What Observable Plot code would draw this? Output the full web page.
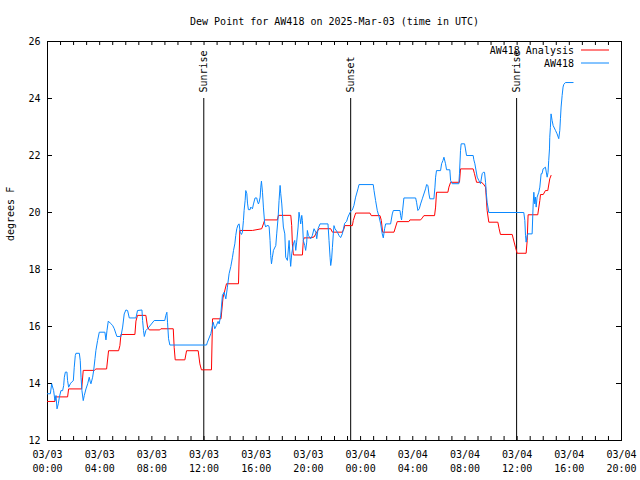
<!DOCTYPE html>
<html>
<head>
<meta charset="utf-8">
<script src="https://cdn.jsdelivr.net/npm/d3@7"></script>
<script src="https://cdn.jsdelivr.net/npm/@observablehq/plot@0.6"></script>
<style>
  html, body { margin: 0; padding: 0; background: #fff; }
  #chart svg { display: block; }
</style>
</head>
<body>
<div id="chart"></div>
<script>
// ---- data (hours after 2025-03-03 00:00 UTC) ----
const titleText = "Dew Point for AW418 on 2025-Mar-03 (time in UTC)";
const yLabel = "degrees F";
const seriesNames = ["AW418 Analysis", "AW418"];
const seriesColors = ["#ff0000", "#0a88ff"];

const anaHours = [0.00,0.57,0.60,1.54,1.62,2.62,2.74,3.59,3.71,4.53,4.68,5.45,5.55,5.63,6.70,6.78,6.90,7.54,7.67,7.80,8.61,8.69,9.64,9.71,9.79,10.53,10.66,11.55,11.68,11.80,12.57,12.65,13.30,13.45,13.72,14.64,14.74,15.71,16.42,16.55,16.65,17.62,17.70,18.65,18.72,18.77,18.85,19.54,19.61,19.67,20.12,20.43,20.64,20.81,21.71,21.84,22.60,22.73,22.78,23.37,23.44,23.62,24.72,24.82,25.49,25.59,25.69,26.56,26.68,26.81,27.70,27.78,28.60,28.73,28.85,29.67,29.75,29.82,30.69,30.77,30.90,31.58,31.66,32.63,32.73,32.89,33.24,33.40,33.58,33.70,33.83,34.52,34.62,34.72,35.62,35.87,36.00,36.69,36.77,36.84,37.58,37.74,37.79,38.00,38.17,38.35,38.50,38.60];
const anaValues = [13.37,13.37,13.53,13.53,13.81,13.81,14.46,14.46,14.51,14.51,15.15,15.15,15.33,15.72,15.72,16.19,16.39,16.39,15.98,15.88,15.88,15.92,15.92,15.27,14.83,14.83,15.15,15.15,14.69,14.48,14.48,16.27,16.27,17.00,17.50,17.50,19.37,19.37,19.43,19.60,19.74,19.74,19.90,19.90,19.54,18.90,18.51,18.51,19.02,19.11,19.11,19.14,19.31,19.43,19.43,19.31,19.31,19.43,19.54,19.54,19.72,19.98,19.98,19.89,19.89,19.72,19.31,19.31,19.49,19.68,19.68,19.74,19.74,19.81,19.89,19.89,20.19,20.71,20.71,20.89,21.06,21.06,21.53,21.53,21.36,21.06,21.06,21.01,20.89,20.07,19.66,19.66,19.43,19.23,19.23,18.78,18.57,18.57,19.01,19.92,19.92,20.42,20.63,20.63,20.77,20.77,21.18,21.30];

const obsHours = [0.00,0.22,0.32,0.47,0.57,0.65,0.73,0.83,0.91,1.03,1.16,1.24,1.29,1.37,1.49,1.54,1.62,1.75,1.85,1.98,2.05,2.13,2.18,2.44,2.51,2.57,2.64,2.74,2.82,2.95,3.08,3.20,3.28,3.33,3.46,3.54,3.64,3.71,3.84,3.97,4.40,4.48,4.56,4.66,4.81,4.99,5.12,5.25,5.32,5.63,5.76,5.88,6.01,6.14,6.27,6.78,6.90,7.24,7.29,7.36,7.42,7.54,7.67,8.18,8.99,9.07,9.15,9.20,9.28,9.38,12.19,12.26,12.52,12.70,12.82,12.95,13.08,13.16,13.28,13.41,13.54,13.67,13.79,13.92,14.05,14.18,14.26,14.36,14.43,14.51,14.61,14.69,14.77,14.87,14.94,15.02,15.07,15.15,15.20,15.28,15.33,15.40,15.53,15.58,15.71,15.79,15.91,16.04,16.09,16.17,16.22,16.30,16.35,16.40,16.48,16.55,16.65,16.73,16.81,16.94,16.99,17.06,17.11,17.17,17.24,17.32,17.50,17.57,17.68,17.75,17.83,17.88,17.96,18.01,18.08,18.19,18.26,18.39,18.52,18.59,18.64,18.72,18.85,18.95,19.03,19.10,19.21,19.28,19.36,19.41,19.49,19.54,19.61,19.72,19.79,19.87,19.92,20.00,20.18,20.30,20.43,20.56,20.64,20.74,20.89,21.50,21.58,21.66,21.71,21.78,21.84,21.91,21.96,22.04,22.22,22.35,22.47,22.60,22.78,22.93,23.03,23.19,23.29,23.37,23.49,23.62,23.80,23.88,24.97,25.03,25.15,25.28,25.41,25.54,25.66,25.74,25.84,25.92,26.30,26.43,26.51,27.02,27.07,27.14,27.22,27.32,28.22,28.29,28.39,28.50,28.60,28.73,28.98,29.06,29.16,29.24,29.31,29.62,29.70,29.75,29.82,30.13,30.21,30.31,30.39,30.51,30.59,30.84,30.90,31.02,31.53,31.58,31.66,31.71,31.97,32.04,32.12,32.63,32.68,32.76,32.94,33.07,33.19,33.32,33.40,33.50,33.58,33.63,33.70,33.83,36.51,36.59,36.64,36.69,36.77,36.82,37.15,37.23,37.28,37.35,37.40,37.46,37.53,37.66,37.74,37.84,37.91,37.99,38.17,38.30,38.37,38.42,38.48,38.50,38.55,38.60,38.68,38.76,38.94,39.06,39.19,39.27,39.32,39.37,39.45,39.52,39.57,39.70,40.29];
const obsValues = [13.64,13.64,13.99,13.75,13.40,13.58,13.11,13.29,13.52,13.75,13.75,13.93,14.22,14.40,14.40,14.10,13.87,13.99,14.05,14.10,14.57,14.98,15.06,15.06,14.81,14.22,13.75,13.40,13.58,13.81,13.99,14.22,14.05,13.99,14.22,14.46,14.87,15.16,15.51,15.80,15.80,15.53,15.86,16.19,16.12,16.04,15.92,15.74,15.65,15.65,15.98,16.44,16.58,16.56,16.30,16.30,16.56,16.58,16.21,15.86,15.65,15.86,15.92,16.21,16.21,16.39,16.50,16.15,15.57,15.35,15.35,15.45,15.75,16.15,15.92,16.04,16.18,16.09,16.40,17.10,17.20,16.97,17.38,17.85,18.10,18.43,18.67,18.90,19.19,19.43,19.57,19.60,19.31,19.23,19.31,19.72,20.07,20.42,20.77,20.66,20.33,20.10,20.10,20.19,20.13,20.30,20.51,20.51,20.40,20.30,20.36,20.54,20.89,21.10,20.71,20.19,19.60,19.49,19.54,19.54,19.49,19.02,18.49,18.20,18.43,18.67,18.84,19.25,19.84,20.42,20.95,20.66,20.30,19.95,19.49,19.25,18.43,18.32,19.02,18.43,18.11,18.55,18.90,19.02,18.67,18.96,19.49,20.01,19.78,19.60,19.90,19.72,19.02,18.84,18.67,18.96,19.37,19.19,19.08,19.19,19.43,19.31,19.08,19.43,19.60,19.60,19.02,18.43,18.14,18.37,18.78,19.25,19.54,19.43,19.31,19.19,19.12,19.25,19.62,19.69,19.84,20.00,20.07,20.09,20.25,20.54,20.83,20.98,20.98,20.77,20.42,20.07,19.86,19.60,19.25,19.11,19.43,19.60,19.60,19.95,20.07,20.07,19.89,19.74,20.07,20.51,20.51,20.36,20.07,20.13,20.30,20.48,20.83,20.98,20.95,20.65,20.48,20.48,20.89,21.24,21.47,21.47,21.71,21.82,21.94,21.71,21.50,21.50,21.12,21.01,21.01,21.36,22.18,22.41,22.41,22.23,22.00,22.00,21.85,21.71,21.24,21.12,21.01,21.36,21.41,21.41,21.06,20.71,20.36,20.00,20.00,19.72,19.20,18.96,19.19,19.25,19.25,20.30,20.71,20.30,20.54,20.19,20.54,20.71,20.89,21.36,21.36,21.53,21.59,21.24,21.41,21.82,22.23,22.64,22.99,23.46,23.23,23.05,22.88,22.76,22.59,22.88,23.29,23.70,24.11,24.40,24.49,24.56,24.56];

const eventHours = [11.98, 23.24, 35.96];
const eventLabels = ["Sunrise", "Sunset", "Sunrise"];
const eventTop = 24;

const xDomainHours = [0, 44];
const yDomain = [12, 26];
const yTicks = [12, 14, 16, 18, 20, 22, 24, 26];
const xLabelHours = [0, 4, 8, 12, 16, 20, 24, 28, 32, 36, 40, 44];
const xMinorHours = d3.range(0, 45, 1);

// ---- build ----
const base = Date.UTC(2025, 2, 3, 0, 0);
const toDate = h => new Date(base + h * 3600e3);
const ana = anaHours.map((h, i) => ({t: toDate(h), v: anaValues[i]}));
const obs = obsHours.map((h, i) => ({t: toDate(h), v: obsValues[i]}));
const events = eventHours.map((h, i) => ({t: toDate(h), label: eventLabels[i]}));
const fmtTick = d => d3.utcFormat("%m/%d")(d) + "\n" + d3.utcFormat("%H:%M")(d);

const W = 640, H = 480, mL = 47, mR = 19, mT = 41, mB = 40;
const innerH = H - mT - mB, innerW = W - mL - mR;
const FONT = "DejaVu Sans Mono, monospace";

function legendMark(index, scales, values, dim) {
  const g = d3.create("svg:g").attr("font-family", FONT).attr("font-size", 10);
  const xr = dim.width - dim.marginRight;
  seriesNames.forEach((name, i) => {
    const y = dim.marginTop + 9 + i * 13;
    g.append("text").attr("x", xr - 47).attr("y", y).attr("text-anchor", "end")
      .attr("dy", "0.35em").attr("fill", "black").text(name);
    g.append("line").attr("x1", xr - 40).attr("x2", xr - 12).attr("y1", y).attr("y2", y)
      .attr("stroke", seriesColors[i]).attr("stroke-width", 1);
  });
  return g.node();
}

const chart = Plot.plot({
  width: W, height: H,
  marginLeft: mL, marginRight: mR, marginTop: mT, marginBottom: mB,
  style: {fontFamily: FONT, fontSize: "10px", background: "white", color: "black"},
  x: {type: "utc", domain: xDomainHours.map(toDate)},
  y: {domain: yDomain},
  marks: [
    Plot.frame({stroke: "black", strokeWidth: 1}),
    // inward ticks: bottom & top hourly, left & right at majors
    Plot.ruleX(xMinorHours.map(toDate), {x: d => d, insetTop: innerH - 4, stroke: "black"}),
    Plot.ruleX(xMinorHours.map(toDate), {x: d => d, insetBottom: innerH - 4, stroke: "black"}),
    Plot.ruleY(yTicks, {y: d => d, insetRight: innerW - 5, stroke: "black"}),
    Plot.ruleY(yTicks, {y: d => d, insetLeft: innerW - 5, stroke: "black"}),
    Plot.axisX(xLabelHours.map(toDate), {
      tickSize: 0, tickPadding: 7, tickFormat: fmtTick, label: null,
      lineHeight: 1.45, fontSize: 10
    }),
    Plot.axisY(yTicks, {tickSize: 0, tickPadding: 7, label: null, fontSize: 10}),
    // sunrise / sunset
    Plot.ruleX(events, {x: "t", y1: yDomain[0], y2: eventTop, stroke: "black", strokeWidth: 1}),
    Plot.text(events, {x: "t", y: eventTop, text: "label", rotate: -90, textAnchor: "start",
      lineAnchor: "middle", dy: -6, fontSize: 10, fill: "black"}),
    // series
    Plot.line(ana, {x: "t", y: "v", stroke: seriesColors[0], strokeWidth: 1, curve: "linear"}),
    Plot.line(obs, {x: "t", y: "v", stroke: seriesColors[1], strokeWidth: 1, curve: "linear"}),
    // titles
    Plot.text([titleText], {frameAnchor: "top", dy: -24, fontSize: 10, fill: "black"}),
    Plot.text([yLabel], {frameAnchor: "left", rotate: -90, dx: -37, fontSize: 10, fill: "black"}),
    legendMark
  ]
});
document.getElementById("chart").appendChild(chart);
</script>
</body>
</html>
